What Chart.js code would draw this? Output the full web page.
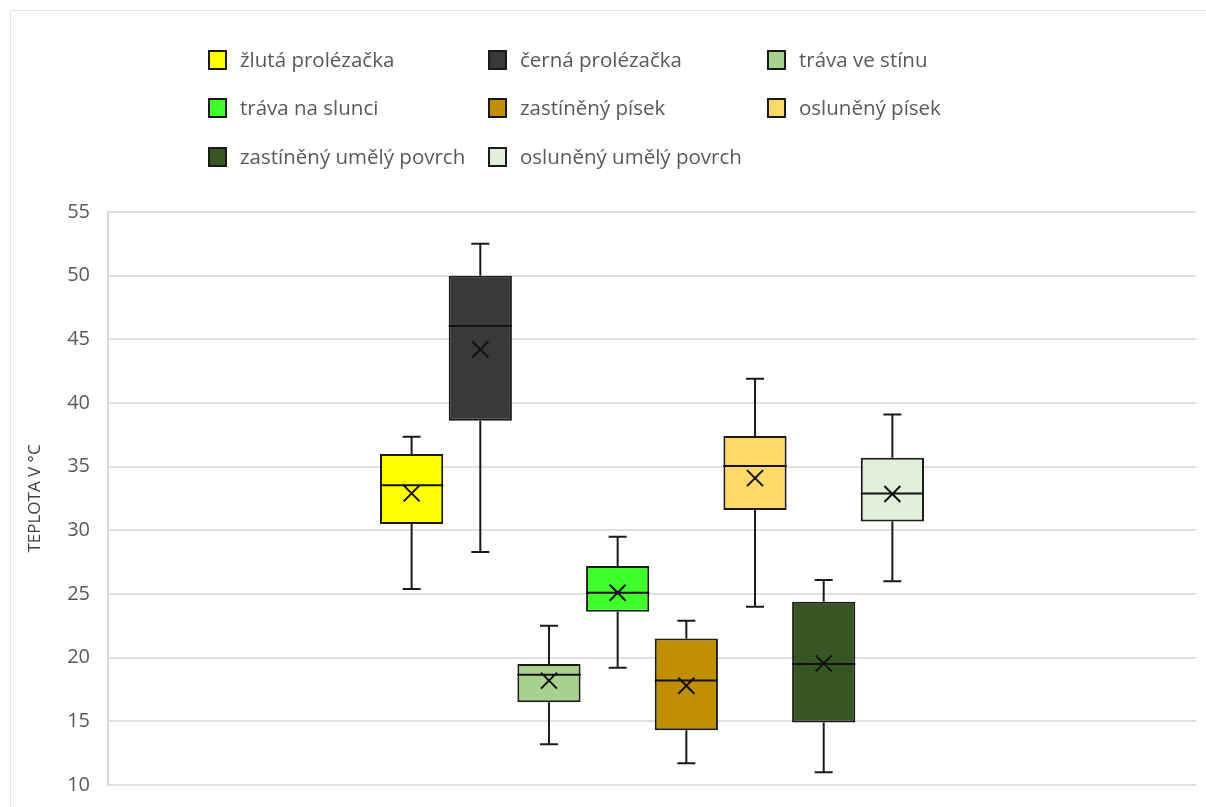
<!DOCTYPE html>
<html>
<head>
<meta charset="utf-8">
<script src="https://cdn.jsdelivr.net/npm/chart.js@4/dist/chart.umd.min.js"></script>
<style>
  html, body { margin: 0; padding: 0; background: #fff; overflow: hidden; }
  #wrap { position: relative; width: 1206px; height: 807px; }
  #frame { position: absolute; left: 10px; top: 10px; width: 1400px; height: 1000px; border: 1px solid #e3e3e3; }
  #myChart { position: absolute; left: 0; top: 0; }
  .leg { position: absolute; font-family: "Open Sans", sans-serif; font-size: 20.5px; color: #595959; white-space: nowrap; line-height: 20px; }
  .leg span.sw { position: absolute; left: 0; top: 0; width: 15px; height: 16px; border: 2px solid #1a1a1a; }
  .leg span.tx { position: absolute; left: 32px; top: -1px; }
</style>
</head>
<body>
<div id="wrap">
  <div id="frame"></div>
  <canvas id="myChart" width="1206" height="807"></canvas>
  <div id="legend"></div>
</div>
<script>
// box plot values (°C)
var seriesNames = ['žlutá prolézačka', 'černá prolézačka', 'tráva ve stínu', 'tráva na slunci',
                   'zastíněný písek', 'osluněný písek', 'zastíněný umělý povrch', 'osluněný umělý povrch'];
var seriesColors = ['#FFFF00', '#3A3838', '#A9D18E', '#41FF2B', '#BF8F00', '#FFD966', '#375623', '#E2EFDA'];
var whiskerLow  = [25.4, 28.3, 13.2, 19.2, 11.7, 24.0, 11.0, 26.0];
var q1          = [30.5, 38.6, 16.5, 23.6, 14.3, 31.6, 14.9, 30.7];
var medians     = [33.55, 46.05, 18.65, 25.1, 18.2, 35.05, 19.5, 32.9];
var q3          = [36.0, 50.0, 19.5, 27.2, 21.5, 37.4, 24.4, 35.7];
var whiskerHigh = [37.35, 52.5, 22.5, 29.5, 22.9, 41.9, 26.1, 39.1];
var means       = [32.9, 44.2, 18.2, 25.1, 17.8, 34.1, 19.55, 32.85];
var yMin = 10, yMax = 55, yStep = 5;
var yTitle = 'TEPLOTA V °C';

// legend (3 columns grid like the original)
var legendCols = [208, 488, 767];
var legendRows = [50, 98, 147];
var legendDiv = document.getElementById('legend');
for (var i = 0; i < seriesNames.length; i++) {
    var item = document.createElement('div');
    item.className = 'leg';
    item.style.left = legendCols[i % 3] + 'px';
    item.style.top = legendRows[Math.floor(i / 3)] + 'px';
    item.innerHTML = "<span class='sw' style='background:" + seriesColors[i] + "'></span><span class='tx'>" + seriesNames[i] + "</span>";
    legendDiv.appendChild(item);
}

var datasets = [];
for (var i = 0; i < seriesNames.length; i++) {
    datasets.push({
        label: seriesNames[i],
        data: [[q1[i], q3[i]]],
        backgroundColor: seriesColors[i],
        borderColor: '#1a1a1a',
        borderWidth: 2,
        borderSkipped: false,
        categoryPercentage: 0.505,
        barPercentage: 0.92
    });
}

// whiskers behind the boxes, median + mean on top
var boxExtras = {
    id: 'boxExtras',
    beforeDatasetsDraw: function(chart) {
        var ctx = chart.ctx, y = chart.scales.y;
        ctx.save();
        ctx.strokeStyle = '#1a1a1a';
        ctx.lineWidth = 2;
        for (var i = 0; i < seriesNames.length; i++) {
            var bar = chart.getDatasetMeta(i).data[0];
            var hi = y.getPixelForValue(whiskerHigh[i]), lo = y.getPixelForValue(whiskerLow[i]);
            ctx.beginPath();
            ctx.moveTo(bar.x, hi); ctx.lineTo(bar.x, y.getPixelForValue(q3[i]));
            ctx.moveTo(bar.x, lo); ctx.lineTo(bar.x, y.getPixelForValue(q1[i]));
            ctx.moveTo(bar.x - 9, hi); ctx.lineTo(bar.x + 9, hi);
            ctx.moveTo(bar.x - 9, lo); ctx.lineTo(bar.x + 9, lo);
            ctx.stroke();
        }
        ctx.restore();
    },
    afterDatasetsDraw: function(chart) {
        var ctx = chart.ctx, y = chart.scales.y;
        ctx.save();
        ctx.strokeStyle = '#111';
        ctx.lineWidth = 2;
        for (var i = 0; i < seriesNames.length; i++) {
            var bar = chart.getDatasetMeta(i).data[0];
            var m = y.getPixelForValue(medians[i]);
            ctx.beginPath();
            ctx.moveTo(bar.x - bar.width / 2, m); ctx.lineTo(bar.x + bar.width / 2, m);
            var a = y.getPixelForValue(means[i]), s = 8;
            ctx.moveTo(bar.x - s, a - s); ctx.lineTo(bar.x + s, a + s);
            ctx.moveTo(bar.x - s, a + s); ctx.lineTo(bar.x + s, a - s);
            ctx.stroke();
        }
        ctx.restore();
    }
};

var ctx = document.getElementById('myChart').getContext('2d');
var myChart = new Chart(ctx, {
    type: 'bar',
    data: { labels: [''], datasets: datasets },
    plugins: [boxExtras],
    options: {
        responsive: false,
        animation: false,
        layout: { padding: { top: 212, bottom: 22, left: 0, right: 10 } },
        plugins: { legend: { display: false }, tooltip: { enabled: false } },
        scales: {
            x: { display: false },
            y: {
                min: yMin,
                max: yMax,
                ticks: { stepSize: yStep, color: '#595959', padding: 18, font: { family: 'Open Sans', size: 20 } },
                grid: { color: '#e0e0e0', lineWidth: 2, drawTicks: false },
                border: { display: true, color: '#d9d9d9', width: 2 },
                title: { display: true, text: yTitle, color: '#404040', padding: { top: 25, bottom: 0 }, font: { family: 'Open Sans', size: 17 } },
                afterFit: function(scale) {
                    scale.width = 108;
                    // the bottom label may run off the canvas, like the cropped original
                    scale.paddingTop = 0;
                    scale.paddingBottom = 0;
                }
            }
        }
    }
});
</script>
</body>
</html>
